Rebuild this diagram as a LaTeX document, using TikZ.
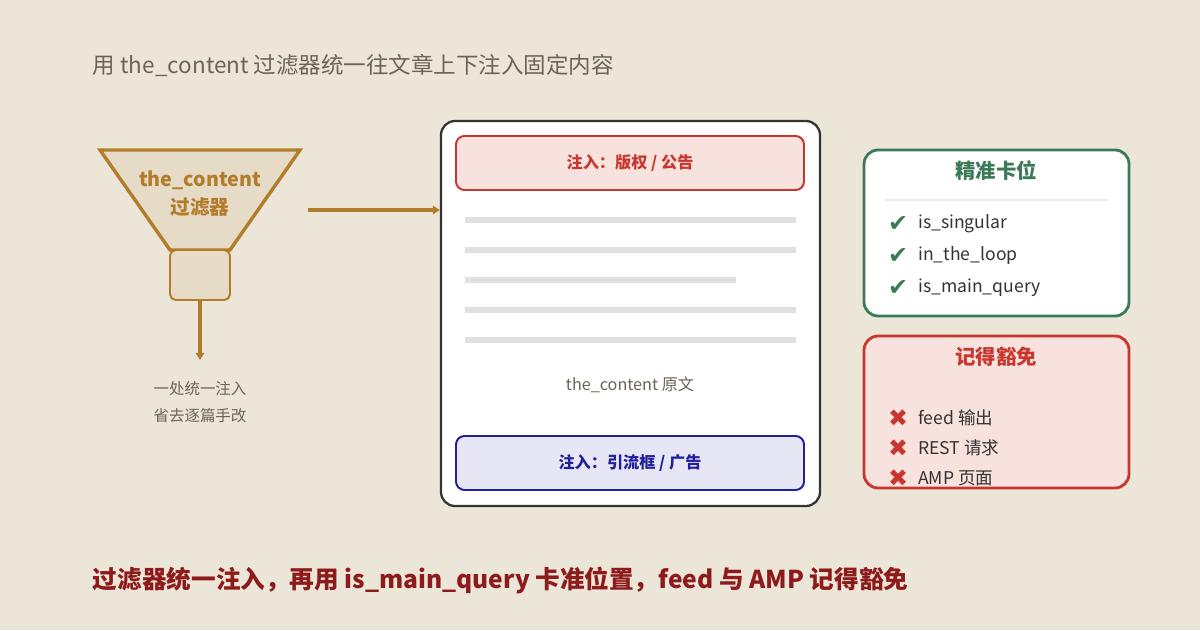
\documentclass[tikz,border=0pt]{standalone}
\usepackage{fontspec}
\setmainfont{Noto Sans CJK SC}
\newfontfamily\symf{DejaVu Sans}
\usetikzlibrary{positioning,arrows.meta}
\definecolor{bg}{HTML}{EBE6D8}
\definecolor{gold}{HTML}{B27D2A}
\definecolor{goldfill}{HTML}{E6DBC6}
\definecolor{okgreen}{HTML}{3B7A57}
\definecolor{badred}{HTML}{C8362F}
\definecolor{redfill}{HTML}{F8E2DD}
\definecolor{bluedark}{HTML}{22209C}
\definecolor{bluefill}{HTML}{E7E6F4}
\definecolor{darkred}{HTML}{8E1B1B}
\definecolor{greytext}{HTML}{6B6459}
\begin{document}
\begin{tikzpicture}[x=0.025cm,y=-0.025cm]
            \tikzset{inject/.style={rectangle, draw, line width=1.4pt, rounded corners=6pt, font=\fontsize{11.5}{13}\selectfont\bfseries},
                     panel/.style={rectangle, draw, line width=2pt, rounded corners=10pt},
                     item/.style={anchor=west, font=\fontsize{12.5}{14}\selectfont, text=black!80, inner sep=0pt},
                     tick/.style={anchor=center, font=\symf\fontsize{17}{17}\selectfont, inner sep=0pt},
                     bar/.style={draw=black!12, line width=4.5pt},
                     arrow/.style={draw=gold, line width=2.6pt, -{Triangle[length=5pt,width=6pt]}}}
            \fill[bg] (0,0) rectangle (1200,630);
            \useasboundingbox (0,0) rectangle (1200,630);

            \node (title) [anchor=west, text=greytext, font=\fontsize{16}{18}\selectfont] at (88,65) {用 the\_content 过滤器统一往文章上下注入固定内容};

            % funnel
            \draw[gold, fill=goldfill, line width=2.4pt] (100,150) -- (300,150) -- (230,250) -- (170,250) -- cycle;
            \node (filter) [text=gold, font=\fontsize{14}{20}\selectfont\bfseries, align=center] at (200,194) {the\_content\\过滤器};
            \node (spout) [rectangle, draw=gold, fill=goldfill, line width=1.4pt, rounded corners=4pt, minimum width=60*0.025cm, minimum height=50*0.025cm] at (200,275) {};
            \coordinate (drop) at (200,360);
            \draw [arrow] (spout.south) -- (drop);
            \node (note) [text=greytext, font=\fontsize{11}{19}\selectfont, align=center] at (200,402) {一处统一注入\\省去逐篇手改};

            % article
            \node (doc) [panel, draw=black!80, fill=white, line width=1.6pt, minimum width=379*0.025cm, minimum height=385*0.025cm] at (630.5,313.5) {};
            \node (top) [inject, draw=badred, fill=redfill, text=badred, minimum width=348*0.025cm, minimum height=54*0.025cm] at (630,163) {注入：版权 / 公告};
            \node (bottom) [inject, draw=bluedark, fill=bluefill, text=bluedark, minimum width=348*0.025cm, minimum height=54*0.025cm] at (630,463) {注入：引流框 / 广告};
            \foreach \y/\e in {220/796, 250/796, 280/736, 310/796, 340/796}
                \draw [bar] (465,\y) -- (\e,\y);
            \node (orig) [text=greytext, font=\fontsize{11.5}{13}\selectfont] at (630,385) {the\_content 原文};
            \coordinate (filterout) at (308,210);
            \draw [arrow] (filterout) -- (doc.west |- filterout);

            % guard panels
            \node (good) [panel, draw=okgreen, fill=white, minimum width=265*0.025cm, minimum height=166*0.025cm] at (996.5,233) {};
            \node (goodtitle) [text=okgreen, font=\fontsize{14.5}{16}\selectfont\bfseries] at (996,171) {精准卡位};
            \draw [black!8, line width=0.8pt] (885,200) -- (1108,200);
            \foreach \y/\t in {224/is\_singular, 256/in\_the\_loop, 288/is\_main\_query} {
                \node [tick, text=okgreen] at (898,\y) {✔};
                \node [item] at (918,\y) {\t};
            }
            \node (bad) [panel, draw=badred, fill=redfill, minimum width=265*0.025cm, minimum height=152*0.025cm] at (996.5,412) {};
            \node (badtitle) [text=badred, font=\fontsize{14.5}{16}\selectfont\bfseries] at (996,357) {记得豁免};
            \foreach \y/\t in {418/feed 输出, 448/REST 请求, 478/AMP 页面} {
                \node [tick, text=badred] at (898,\y) {✖};
                \node [item] at (918,\y) {\t};
            }

            \node (summary) [anchor=west, text=darkred, font=\fontsize{17.5}{20}\selectfont\bfseries] at (88,580) {过滤器统一注入，再用 is\_main\_query 卡准位置，feed 与 AMP 记得豁免};
        \end{tikzpicture}
\end{document}
